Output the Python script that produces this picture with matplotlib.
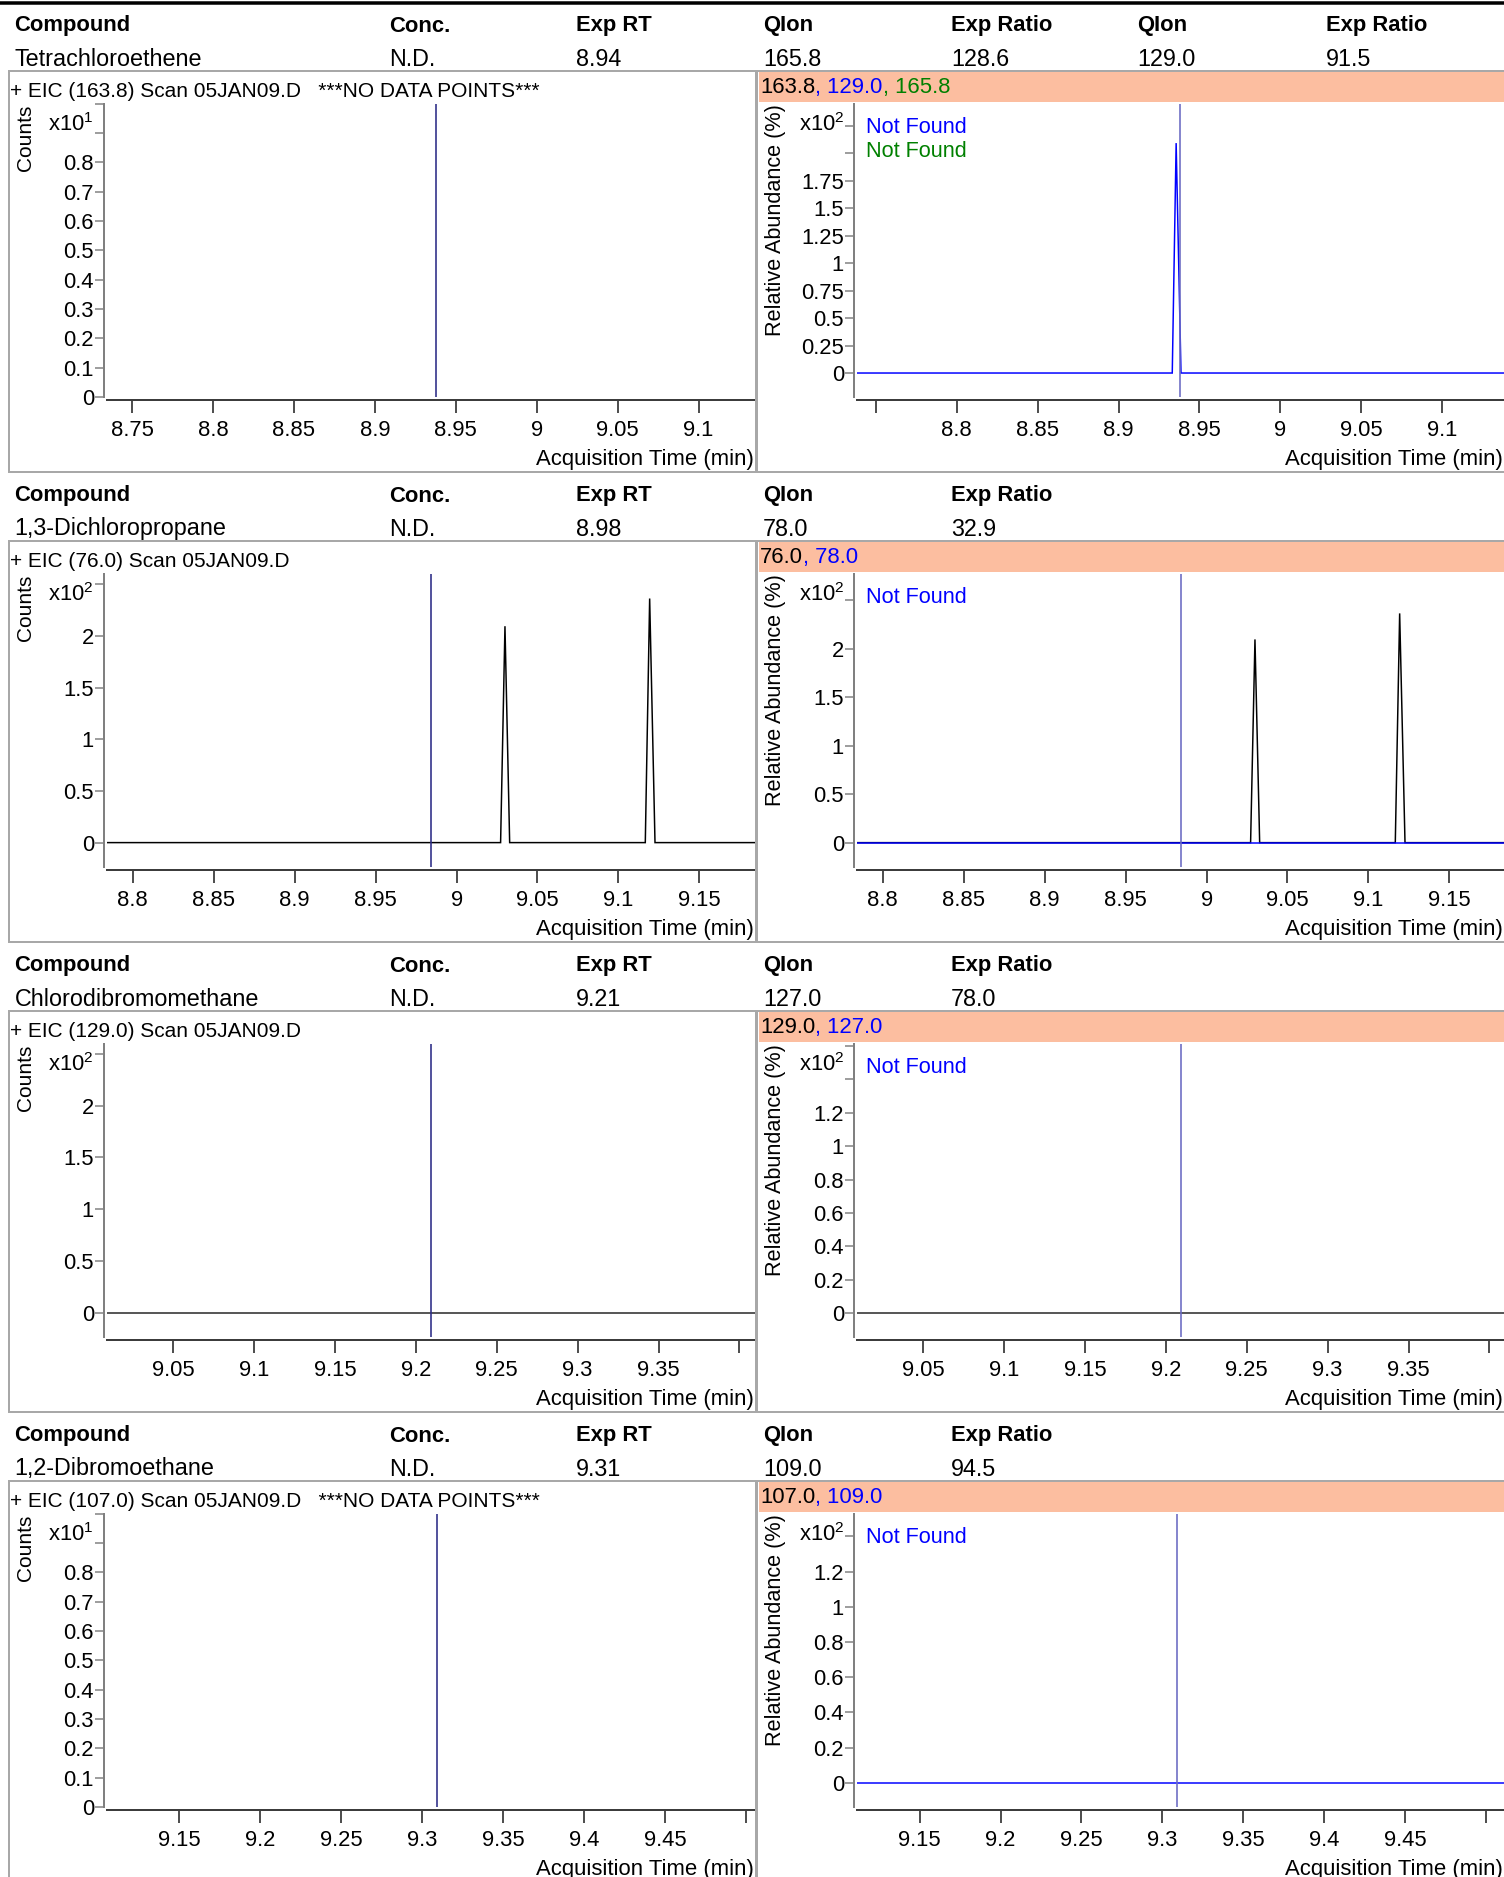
import matplotlib
matplotlib.use("Agg")
import matplotlib.pyplot as plt
from matplotlib.ticker import MultipleLocator, FuncFormatter
from matplotlib.patches import Rectangle
from matplotlib.lines import Line2D

W, H = 1504, 1877
DPI = 100
PT = 72.0 / DPI  # points per pixel

plt.rcParams["font.family"] = ["Liberation Sans", "DejaVu Sans"]
plt.rcParams["mathtext.fontset"] = "custom"
plt.rcParams["mathtext.rm"] = "Liberation Sans"
plt.rcParams["mathtext.default"] = "regular"

# ---------------- data ----------------
header_cols = ["Compound", "Conc.", "Exp RT", "QIon", "Exp Ratio", "QIon", "Exp Ratio"]
compounds = ["Tetrachloroethene", "1,3-Dichloropropane", "Chlorodibromomethane", "1,2-Dibromoethane"]
conc = ["N.D.", "N.D.", "N.D.", "N.D."]
exp_rt = ["8.94", "8.98", "9.21", "9.31"]
qualifier_ions = [["165.8", "129.0"], ["78.0"], ["127.0"], ["109.0"]]
qualifier_ratios = [["128.6", "91.5"], ["32.9"], ["78.0"], ["94.5"]]
target_ions = ["163.8", "76.0", "129.0", "107.0"]
overlay_ions = [["129.0", "165.8"], ["78.0"], ["127.0"], ["109.0"]]
no_data = [True, False, False, True]
data_file = "05JAN09.D"

rt_marker = [8.938, 8.9845, 9.2095, 9.309]
xlim_left = [(8.7347, 9.1347), (8.7842, 9.1842), (9.0094, 9.4094), (9.1055, 9.5055)]
xlim_right = [(8.7386, 9.1386), (8.7842, 9.1842), (9.0094, 9.4094), (9.1115, 9.5115)]
ylim_left = [(0.0, 1.0), (-0.236, 2.604), (-0.235, 2.60), (0.0, 1.0)]
ylim_right = [(-0.218, 2.45), (-0.251, 2.773), (-0.142, 1.614), (-0.138, 1.53)]
ystep_left = [0.1, 0.5, 0.5, 0.1]
ystep_right = [0.25, 0.5, 0.2, 0.2]
exp_left = [1, 2, 2, 1]
exp_right = [2, 2, 2, 2]

# chromatogram traces (time in min, response in displayed x10^n units)
s1_q129_time = [8.7386, 8.9332, 8.9356, 8.9386, 9.1386]
s1_q129_resp = [0.0, 0.0, 2.09, 0.0, 0.0]
s2_t76_time = [8.7842, 9.0272, 9.0299, 9.0328, 9.1166, 9.1193, 9.1226, 9.1842]
s2_t76_resp = [0.0, 0.0, 2.094, 0.0, 0.0, 2.362, 0.0, 0.0]
s2_q78_time = [8.7842, 9.1842]
s2_q78_resp = [0.0, 0.0]
s3_t129_time = [9.0094, 9.4094]
s3_t129_resp = [0.0, 0.0]
s4_q109_time = [9.1115, 9.5115]
s4_q109_resp = [0.0, 0.0]

BLUE = "#0000ff"
GREEN = "#008000"
BLACK = "#000000"
overlay_colors = [BLUE, GREEN]

left_traces = [
    [],
    [(s2_t76_time, s2_t76_resp, BLACK)],
    [(s3_t129_time, s3_t129_resp, "#222222")],
    [],
]
right_traces = [
    [(s1_q129_time, s1_q129_resp, BLUE)],
    [(s2_t76_time, s2_t76_resp, BLACK), (s2_q78_time, s2_q78_resp, BLUE)],
    [(s3_t129_time, s3_t129_resp, "#222222")],
    [(s4_q109_time, s4_q109_resp, BLUE)],
]

# ---------------- layout ----------------
fig = plt.figure(figsize=(W / DPI, H / DPI), dpi=DPI)
fig.patch.set_facecolor("white")
renderer = fig.canvas.get_renderer()


def fx(x):
    return x / W


def fy(y):
    return 1 - y / H


def ftext(x, y, s, **kw):
    return fig.text(fx(x), fy(y), s, **kw)


fig.add_artist(Line2D([0, 1], [fy(3), fy(3)], color="black", lw=3.5 * PT))

col_x = [14.5, 389, 576, 763, 951, 1137, 1326]
FRAME = "#a8a8a8"
ORANGE = "#fcbea0"
AX_W = 647.4
AX_H = 293.5
FS_TICK = 15.8


def xfmt_factory(lo, hi, margin=20):
    def f(v, pos):
        if (v - lo) / (hi - lo) * AX_W < margin or (hi - v) / (hi - lo) * AX_W < margin:
            return ""
        return f"{round(v, 4) + 0.0:g}"
    return FuncFormatter(f)


def yfmt_factory(lo, hi, margin=55):
    def f(v, pos):
        if (hi - v) / (hi - lo) * AX_H < margin:
            return ""
        return f"{round(v, 4) + 0.0:g}"
    return FuncFormatter(f)


def make_axes(x0, yt, xlim, ylim, ystep, traces, rt, rt_color):
    yb = yt + AX_H
    ax = fig.add_axes([fx(x0), fy(yb), AX_W / W, AX_H / H])
    ax.patch.set_visible(False)
    for side in ("top", "right"):
        ax.spines[side].set_visible(False)
    ax.spines["left"].set_position(("outward", 3.0 * PT))
    ax.spines["bottom"].set_position(("outward", 2.7 * PT))
    ax.spines["left"].set_color("#808080")
    ax.spines["left"].set_linewidth(2 * PT)
    ax.spines["bottom"].set_color("#3c3c3c")
    ax.spines["bottom"].set_linewidth(2 * PT)
    ax.set_xlim(*xlim)
    ax.set_ylim(*ylim)
    ax.xaxis.set_major_locator(MultipleLocator(0.05))
    ax.yaxis.set_major_locator(MultipleLocator(ystep))
    ax.xaxis.set_major_formatter(xfmt_factory(*xlim))
    ax.yaxis.set_major_formatter(yfmt_factory(*ylim))
    ax.tick_params(axis="x", direction="out", length=13 * PT, width=2 * PT,
                   color="#505050", labelsize=FS_TICK, pad=5.0)
    ax.tick_params(axis="y", direction="out", length=9 * PT, width=1.5 * PT,
                   color="#808080", labelsize=FS_TICK, pad=1.0)
    for t, r, c in traces:
        ax.plot(t, r, color=c, lw=1.5 * PT, solid_joinstyle="miter")
    ax.axvline(rt, color=rt_color, lw=1.6 * PT)
    return ax


for k in range(4):
    Hk = 23 + 470 * k
    nq = len(qualifier_ions[k])
    # table header and values
    heads = header_cols[: 3 + 2 * nq]
    vals = [compounds[k], conc[k], exp_rt[k]]
    for q, r in zip(qualifier_ions[k], qualifier_ratios[k]):
        vals += [q, r]
    for i, h in enumerate(heads):
        ftext(col_x[i], Hk + 3, h, fontsize=15.8, fontweight="bold", va="center", ha="left")
    for i, v in enumerate(vals):
        ftext(col_x[i], Hk + 36, v, fontsize=16.8, va="center", ha="left")

    # frames
    top, bot = Hk + 48, Hk + 449
    fig.add_artist(Rectangle((fx(8.7), fy(bot)), fx(756) - fx(8.7), (bot - top) / H,
                             transform=fig.transFigure, fill=False, ec=FRAME, lw=2 * PT))
    fig.add_artist(Rectangle((fx(757.5), fy(bot)), fx(1512) - fx(757.5), (bot - top) / H,
                             transform=fig.transFigure, fill=False, ec=FRAME, lw=2 * PT))
    fig.add_artist(Rectangle((fx(758.5), fy(Hk + 79)), fx(1504) - fx(758.5), 30 / H,
                             transform=fig.transFigure, fc=ORANGE, ec="none"))

    # EIC title
    title = f"+ EIC ({target_ions[k]}) Scan {data_file}"
    if no_data[k]:
        title += "   ***NO DATA POINTS***"
    ftext(10, Hk + 68.5, title, fontsize=15.0, va="center", ha="left")

    # colored ion list in orange bar
    x = 760
    parts = [(target_ions[k], BLACK)] + [(", " + ion, overlay_colors[i])
                                          for i, ion in enumerate(overlay_ions[k])]
    for s, c in parts:
        t = ftext(x, Hk + 64.5, s, color=c, fontsize=15.9, va="center", ha="left")
        x = t.get_window_extent(renderer).x1

    yt = Hk + 80.5
    make_axes(107.3, yt, xlim_left[k], ylim_left[k], ystep_left[k],
              left_traces[k], rt_marker[k], "#2c2c86")
    make_axes(857.3, yt, xlim_right[k], ylim_right[k], ystep_right[k],
              right_traces[k], rt_marker[k], "#6a6ac2")

    # axis decorations
    ftext(26, yt + 1, "Counts", rotation=90, fontsize=15.0, ha="center", va="top")
    ftext(776, yt + 1, "Relative Abundance (%)", rotation=90, fontsize=15.6, ha="center", va="top")
    ftext(104.3 - 11, yt + 21, "x10$^{%d}$" % exp_left[k], fontsize=FS_TICK, ha="right", va="center")
    ftext(854 - 10, yt + 21, "x10$^{%d}$" % exp_right[k], fontsize=FS_TICK, ha="right", va="center")
    for i, ion in enumerate(overlay_ions[k]):
        ftext(865.7, yt + 24 + 24 * i, "Not Found", color=overlay_colors[i], fontsize=15.6,
              ha="left", va="center")
    ftext(754, Hk + 437, "Acquisition Time (min)", fontsize=15.9, ha="right", va="center")
    ftext(1503, Hk + 437, "Acquisition Time (min)", fontsize=15.9, ha="right", va="center")

fig.savefig("out.png", dpi=DPI, facecolor="white")
